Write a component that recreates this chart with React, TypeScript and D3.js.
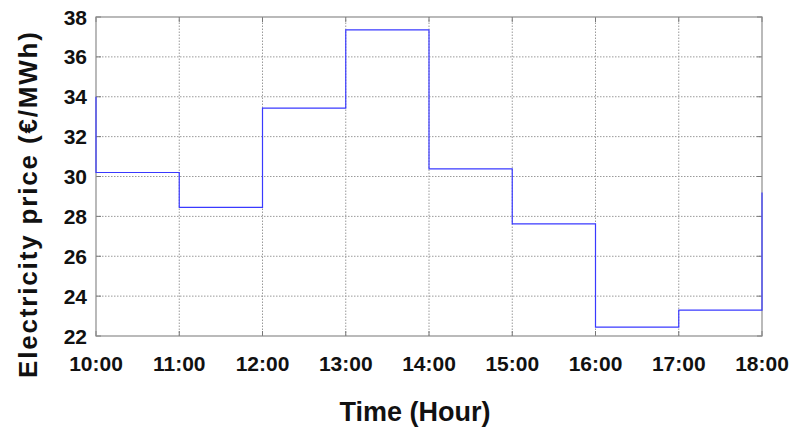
import React from "react";
import * as d3 from "d3";

// Hourly electricity price, drawn as a step line
const hours = [10, 11, 12, 13, 14, 15, 16, 17];
const prices = [30.2, 28.45, 33.43, 37.35, 30.38, 27.62, 22.45, 23.3];
const priceBefore = 34.0; // price in the hour before 10:00
const priceAfter = 29.2; // price from 18:00
const xTicks = [10, 11, 12, 13, 14, 15, 16, 17, 18];
const yTicks = [22, 24, 26, 28, 30, 32, 34, 36, 38];

const W = 792;
const H = 428;
const M = { left: 96, right: 30, top: 17, bottom: 92 };
const FONT = "'Liberation Sans', Arial, sans-serif";

export default function App() {
  const x = d3.scaleLinear().domain([10, 18]).range([M.left, W - M.right]);
  const y = d3.scaleLinear().domain([22, 38]).range([H - M.bottom, M.top]);

  const pts: [number, number][] = [
    [10, priceBefore],
    ...hours.map((h, i) => [h, prices[i]] as [number, number]),
    [18, priceAfter],
  ];
  const line = d3
    .line<[number, number]>()
    .x((d) => x(d[0]))
    .y((d) => y(d[1]))
    .curve(d3.curveStepAfter);

  const x0 = x(10), x1 = x(18), y0 = y(22), y1 = y(38);
  const fmt = (h: number) => `${h}:00`;

  return (
    <svg width={W} height={H} style={{ position: "absolute", left: 0, top: 0, background: "#fff" }}>
      {/* grid */}
      {yTicks.slice(1, -1).map((t) => (
        <line key={"gy" + t} x1={x0} x2={x1} y1={y(t)} y2={y(t)} stroke="#9a9a9a" strokeWidth={1} strokeDasharray="1.5,1.5" />
      ))}
      {xTicks.slice(1, -1).map((t) => (
        <line key={"gx" + t} x1={x(t)} x2={x(t)} y1={y0} y2={y1} stroke="#9a9a9a" strokeWidth={1} strokeDasharray="1.5,1.5" />
      ))}
      {/* inner tick marks */}
      {yTicks.map((t) => (
        <g key={"ty" + t}>
          <line x1={x0} x2={x0 + 5} y1={y(t)} y2={y(t)} stroke="#777" />
          <line x1={x1 - 5} x2={x1} y1={y(t)} y2={y(t)} stroke="#777" />
        </g>
      ))}
      {xTicks.map((t) => (
        <g key={"tx" + t}>
          <line x1={x(t)} x2={x(t)} y1={y0} y2={y0 - 5} stroke="#777" />
          <line x1={x(t)} x2={x(t)} y1={y1} y2={y1 + 5} stroke="#777" />
        </g>
      ))}
      {/* frame */}
      <rect x={x0} y={y1} width={x1 - x0} height={y0 - y1} fill="none" stroke="#8c8c8c" strokeWidth={1.2} />
      {/* price line */}
      <path d={line(pts) ?? ""} fill="none" stroke="#3a3aff" strokeWidth={1.2} />
      {/* tick labels */}
      {yTicks.map((t) => (
        <text key={"ly" + t} x={x0 - 9} y={y(t)} dy="0.36em" textAnchor="end" fontFamily={FONT} fontWeight="bold" fontSize={21} fill="#111">
          {t}
        </text>
      ))}
      {xTicks.map((t) => (
        <text key={"lx" + t} x={x(t)} y={y0 + 35} textAnchor="middle" fontFamily={FONT} fontWeight="bold" fontSize={21} fill="#111">
          {fmt(t)}
        </text>
      ))}
      {/* axis titles */}
      <text x={415} y={421} textAnchor="middle" fontFamily={FONT} fontWeight="bold" fontSize={27} fill="#111">
        Time (Hour)
      </text>
      <text
        transform={`translate(37,205) rotate(-90)`}
        textAnchor="middle"
        fontFamily={FONT}
        fontWeight="bold"
        fontSize={26}
        textLength={346}
        lengthAdjust="spacing"
        fill="#111"
      >
        Electricity price (€/MWh)
      </text>
    </svg>
  );
}
